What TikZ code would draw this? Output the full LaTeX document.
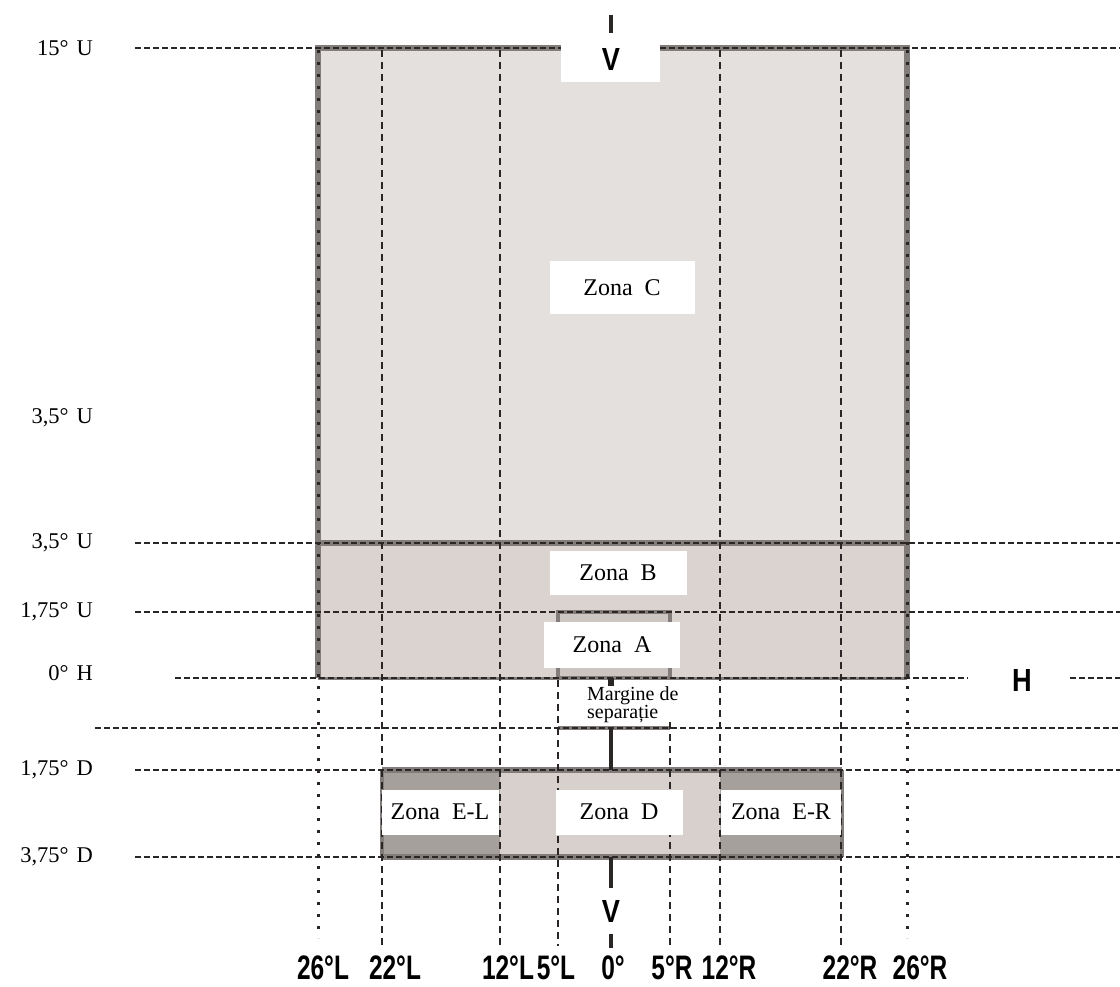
\documentclass[tikz,border=0pt]{standalone}
\usepackage{fontspec}
\usepackage{graphicx}
\setmainfont{Liberation Serif}
\newfontfamily\sansb{Liberation Sans}
\definecolor{zc}{HTML}{E4E0DE}
\definecolor{zb}{HTML}{DAD3D0}
\definecolor{za}{HTML}{CDC5C2}
\definecolor{ze}{HTML}{A6A09D}
\definecolor{zd}{HTML}{D7D0CD}
\definecolor{fr}{HTML}{827C7A}
\definecolor{ln}{HTML}{2A2626}
\tikzset{
  hline/.style={draw=ln, line width=2.8pt, dash pattern=on 6pt off 3pt},
  vline/.style={draw=ln, line width=2.8pt, dash pattern=on 7pt off 5pt},
  vdots/.style={draw=ln, line width=3pt, dash pattern=on 3pt off 9pt},
  framel/.style={draw=fr, line width=6pt},
  solidbar/.style={draw=ln, line width=4.5pt},
  lab/.style={font=\fontsize{22.5}{24}\selectfont, inner sep=0pt, anchor=east},
  zonebox/.style={fill=white, inner sep=0pt, font=\fontsize{24}{26}\selectfont},
  deg/.style={font=\sansb\bfseries\fontsize{34}{36}\selectfont, inner sep=0pt},
  vh/.style={font=\sansb\bfseries\fontsize{32}{34}\selectfont, inner sep=0pt}
}
\newcommand{\sq}[1]{\scalebox{0.72}[1]{#1}}
\newcommand{\sqv}[1]{\scalebox{0.85}[1]{#1}}
\begin{document}
\begin{tikzpicture}[x=1pt,y=-1pt]
\useasboundingbox[fill=white] (0,0) rectangle (1120,987);
% fills
\fill[zc] (318,48) rectangle (907,543);
\fill[zb] (318,543) rectangle (907,678);
\fill[za] (558,612) rectangle (670,678);
\fill[white] (561,36) rectangle (660,82);
\fill[ze] (382,770) rectangle (500,857);
\fill[zd] (500,770) rectangle (720,857);
\fill[ze] (720,770) rectangle (842,857);
% frame lines
\draw[framel] (318,678) -- (318,48) -- (561,48);
\draw[framel] (660,48) -- (907,48) -- (907,678);
\draw[framel] (318,543) -- (907,543);
\draw[draw=fr, line width=3pt] (318,678) -- (907,678);
\draw[draw=fr, line width=4.5pt] (558,678) rectangle (670,612);
\draw[framel] (382,770) -- (842,770);
\draw[framel] (382,857) -- (842,857);
\draw[draw=fr, line width=4pt] (842,770) -- (842,857);
\draw[draw=fr, line width=4pt] (382,770) -- (382,857);
\draw[draw=fr, line width=4pt] (558,728) -- (670,728);
% coordinates
\coordinate (hU15a) at (135,48); \coordinate (hU15b) at (561,48);
\coordinate (hU15c) at (660,48); \coordinate (hU15d) at (1120,48);
\coordinate (hBa) at (135,543); \coordinate (hBb) at (1120,543);
\coordinate (hAa) at (135,612); \coordinate (hAb) at (1120,612);
\coordinate (hHa) at (175,678); \coordinate (hHb) at (968,678);
\coordinate (hHc) at (1070,678); \coordinate (hHd) at (1120,678);
\coordinate (hMa) at (95,728); \coordinate (hMb) at (1120,728);
\coordinate (hD1a) at (135,770); \coordinate (hD1b) at (1120,770);
\coordinate (hD2a) at (135,857); \coordinate (hD2b) at (1120,857);
% horizontal dashed
\draw[hline] (hU15a) -- (hU15b);
\draw[hline] (hU15c) -- (hU15d);
\draw[hline] (hBa) -- (hBb);
\draw[hline] (hAa) -- (hAb);
\draw[hline] (hHa) -- (hHb);
\draw[hline] (hHc) -- (hHd);
\draw[hline] (hMa) -- (hMb);
\draw[hline] (hD1a) -- (hD1b);
\draw[hline] (hD2a) -- (hD2b);
% vertical lines
\coordinate (v26Lt) at (318,50); \coordinate (v26Lb) at (318,938);
\coordinate (v22Lt) at (382,50); \coordinate (v22Lb) at (382,946);
\coordinate (v12Lt) at (500,50); \coordinate (v12Lb) at (500,946);
\coordinate (v5Lt) at (558,680); \coordinate (v5Lb) at (558,946);
\coordinate (v5Rt) at (670,722); \coordinate (v5Rb) at (670,946);
\coordinate (v12Rt) at (720,50); \coordinate (v12Rb) at (720,946);
\coordinate (v22Rt) at (841,50); \coordinate (v22Rb) at (841,946);
\coordinate (v26Rt) at (907,50); \coordinate (v26Rb) at (907,938);
\draw[vdots] (v26Lt) -- (v26Lb);
\draw[vline] (v22Lt) -- (v22Lb);
\draw[vline] (v12Lt) -- (v12Lb);
\draw[vline] (v5Lt) -- (v5Lb);
\draw[vline] (v5Rt) -- (v5Rb);
\draw[vline] (v12Rt) -- (v12Rb);
\draw[vline] (v22Rt) -- (v22Rb);
\draw[vdots] (v26Rt) -- (v26Rb);
% centre (0 deg) bars
\coordinate (c1) at (611,15); \coordinate (c2) at (611,33);
\coordinate (c3) at (611,678); \coordinate (c4) at (611,686);
\coordinate (c5) at (611,728); \coordinate (c6) at (611,770);
\coordinate (c7) at (611,857); \coordinate (c8) at (611,888);
\coordinate (c9) at (611,934); \coordinate (c10) at (611,948);
\draw[solidbar] (c1) -- (c2);
\draw[solidbar, line width=6pt] (c3) -- (c4);
\draw[solidbar] (c5) -- (c6);
\draw[solidbar] (c7) -- (c8);
\draw[solidbar] (c9) -- (c10);
% zone label boxes
\node[zonebox, minimum width=145pt, minimum height=53pt] (zC) at (622,288) {Zona\hspace{0.5em}C};
\node[zonebox, minimum width=137pt, minimum height=44pt] (zB) at (618,573) {Zona\hspace{0.5em}B};
\node[zonebox, minimum width=136pt, minimum height=46pt] (zA) at (612,645) {Zona\hspace{0.5em}A};
\node[zonebox, minimum width=127pt, minimum height=45pt] (zD) at (619,812) {Zona\hspace{0.5em}D};
\node[zonebox, minimum width=117pt, minimum height=45pt] (zEL) at (440,812) {Zona\hspace{0.5em}E-L};
\node[zonebox, minimum width=120pt, minimum height=45pt] (zER) at (781,812) {Zona\hspace{0.5em}E-R};
% margin text
\node[anchor=north west, inner sep=0pt, align=left, font=\fontsize{20}{15.5}\selectfont] (marg) at (587,686) {Margine de\\separație};
% left labels
\node[lab] (l15) at (93,48) {15°\hspace{0.35em}U};
\node[lab] (l35a) at (93,418) {3,5°\hspace{0.35em}U};
\node[lab] (l35b) at (93,543) {3,5°\hspace{0.35em}U};
\node[lab] (l175u) at (93,612) {1,75°\hspace{0.35em}U};
\node[lab] (l0h) at (93,673) {0°\hspace{0.35em}H};
\node[lab] (l175d) at (93,770) {1,75°\hspace{0.35em}D};
\node[lab] (l375d) at (93,857) {3,75°\hspace{0.35em}D};
% V and H marks
\node[vh] (vtop) at (611,59) {\sqv{V}};
\node[vh] (vbot) at (611,911) {\sqv{V}};
\node[vh] (hmark) at (1022,680) {\sqv{H}};
% bottom degree labels
\node[deg] (d26L) at (323,968) {\sq{26°L}};
\node[deg] (d22L) at (395,968) {\sq{22°L}};
\node[deg] (d12L) at (508,968) {\sq{12°L}};
\node[deg] (d5L) at (556,968) {\sq{5°L}};
\node[deg] (d0) at (613,968) {\sq{0°}};
\node[deg] (d5R) at (672,968) {\sq{5°R}};
\node[deg] (d12R) at (729,968) {\sq{12°R}};
\node[deg] (d22R) at (850,968) {\sq{22°R}};
\node[deg] (d26R) at (920,968) {\sq{26°R}};
\end{tikzpicture}
\end{document}
